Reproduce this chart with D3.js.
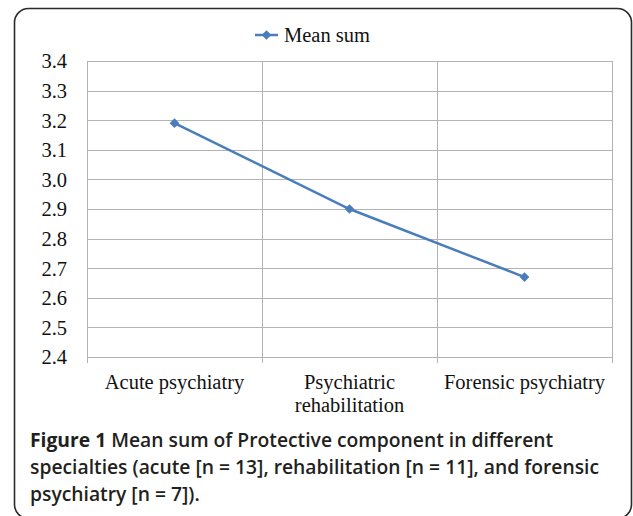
<!DOCTYPE html>
<html><head><meta charset="utf-8">
<script src="https://cdn.jsdelivr.net/npm/d3@7"></script>
<style>body{margin:0;background:#fff}svg{display:block}</style>
</head><body>
<script>
const categories = [["Acute psychiatry"], ["Psychiatric", "rehabilitation"], ["Forensic psychiatry"]];
const meanSum = [3.19, 2.90, 2.67];
const yTicks = [2.4, 2.5, 2.6, 2.7, 2.8, 2.9, 3.0, 3.1, 3.2, 3.3, 3.4];
const seriesName = "Mean sum";
const captionBold = "Figure 1";
const captionLines = [" Mean sum of Protective component in different",
  "specialties (acute [n = 13], rehabilitation [n = 11], and forensic",
  "psychiatry [n = 7])."];

(function () {
const W = 633, H = 516;
const serif = "'Liberation Serif', 'Times New Roman', serif";
const svg = d3.select("body").append("svg").attr("width", W).attr("height", H);

svg.append("rect").attr("x", 14.5).attr("y", 8.5).attr("width", 617).attr("height", 510)
  .attr("rx", 14).attr("fill", "none").attr("stroke", "#2b2b2b").attr("stroke-width", 1.6);

const pLeft = 87, pRight = 612, pTop = 61, pBottom = 357;
const x = d3.scaleBand().domain(d3.range(categories.length)).range([pLeft, pRight]).padding(0);
const y = d3.scaleLinear().domain([2.4, 3.4]).range([pBottom, pTop]);

const grid = svg.append("g");
grid.selectAll("line.h").data(yTicks).join("line")
  .attr("x1", pLeft).attr("x2", pRight)
  .attr("y1", d => Math.round(y(d)) + 0.5).attr("y2", d => Math.round(y(d)) + 0.5)
  .attr("stroke", "#b3b3b3").attr("stroke-width", 1);
const vx = d3.range(categories.length + 1).map(i => i < categories.length ? x(i) : x(categories.length - 1) + x.bandwidth());
grid.selectAll("line.v").data(vx).join("line")
  .attr("x1", d => Math.round(d) + 0.5).attr("x2", d => Math.round(d) + 0.5)
  .attr("y1", pTop).attr("y2", pBottom + 6)
  .attr("stroke", "#b3b3b3").attr("stroke-width", 1);

const yAxis = d3.axisLeft(y).tickValues(yTicks).tickFormat(d3.format(".1f")).tickSize(0).tickPadding(0);
const yg = svg.append("g").attr("transform", `translate(${pLeft - 20},0)`).call(yAxis);
yg.select(".domain").remove();
yg.selectAll("text").attr("font-family", serif)
  .attr("font-size", 20.5).attr("fill", "#111").attr("dy", "0.34em");

const xl = svg.append("g");
categories.forEach((lines, i) => {
  const cx = x(i) + x.bandwidth() / 2;
  lines.forEach((t, j) => {
    xl.append("text").attr("x", cx).attr("y", 389 + j * 23).attr("text-anchor", "middle")
      .attr("font-family", serif).attr("font-size", 20.5)
      .attr("fill", "#111").text(t);
  });
});

const color = "#4a7ebb";
const line = d3.line().x((d, i) => x(i) + x.bandwidth() / 2).y(d => y(d));
svg.append("path").datum(meanSum).attr("d", line).attr("fill", "none")
  .attr("stroke", color).attr("stroke-width", 2.5);
const diamond = d3.symbol().type(d3.symbolDiamond2).size(60);
svg.selectAll("path.m").data(meanSum).join("path")
  .attr("transform", (d, i) => `translate(${x(i) + x.bandwidth() / 2},${y(d)})`)
  .attr("d", diamond).attr("fill", color);

const lg = svg.append("g");
lg.append("line").attr("x1", 255).attr("x2", 278).attr("y1", 35).attr("y2", 35)
  .attr("stroke", color).attr("stroke-width", 2.5);
lg.append("path").attr("transform", "translate(266.5,35)").attr("d", diamond).attr("fill", color);
lg.append("text").attr("x", 284).attr("y", 42).attr("font-family", serif)
  .attr("font-size", 20.5).attr("fill", "#111").text(seriesName);

const cap = svg.append("g").attr("font-family", "'Open Sans', 'Noto Sans', sans-serif").attr("fill", "#231f20");
captionLines.forEach((t, j) => {
  const tx = cap.append("text").attr("x", 30).attr("y", 447 + j * 27).attr("font-size", 19.3).attr("font-weight", 600);
  if (j === 0) tx.append("tspan").attr("font-weight", 700).text(captionBold);
  tx.append("tspan").text(t);
});
})();
</script>
</body></html>
